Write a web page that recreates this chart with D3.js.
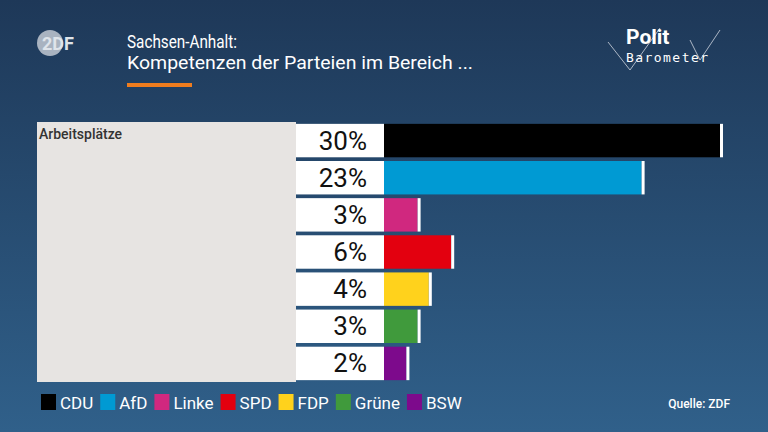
<!DOCTYPE html><html><head><meta charset="utf-8">
<script src="https://cdn.jsdelivr.net/npm/d3@7"></script>
<style>body{margin:0;overflow:hidden}svg{display:block;font-family:Roboto,"Liberation Sans",sans-serif}</style></head><body>
<svg id="c" width="768" height="432"></svg>
<script>
const parties=["CDU","AfD","Linke","SPD","FDP","Grüne","BSW"];
const values=[30,23,3,6,4,3,2];
const colors=["#000000","#009ad3","#d0287f","#e3000f","#ffd21c","#409a3c","#7d0a8c"];
const category="Arbeitsplätze";
(function(){
const svg=d3.select("#c");
const defs=svg.append("defs");
const g=defs.append("linearGradient").attr("id","bg").attr("x1",0).attr("y1",0).attr("x2",0).attr("y2",1);
g.append("stop").attr("offset",0).attr("stop-color","#1e3858");
g.append("stop").attr("offset",1).attr("stop-color","#30608a");
svg.append("rect").attr("width",768).attr("height",432).attr("fill","url(#bg)");
svg.append("circle").attr("cx",50).attr("cy",43).attr("r",13).attr("fill","#a9b3c0");
svg.append("text").attr("x",58).attr("y",50).attr("font-size",18).attr("font-weight","bold").attr("fill","#dfe4ea").attr("text-anchor","middle").text("2DF");
svg.append("text").attr("x",127).attr("y",48).attr("fill","#fff").attr("font-size",19).attr("lengthAdjust","spacingAndGlyphs").attr("textLength",110).text("Sachsen-Anhalt:");
svg.append("text").attr("x",127).attr("y",69).attr("fill","#fff").attr("font-size",19).attr("lengthAdjust","spacingAndGlyphs").attr("textLength",346).text("Kompetenzen der Parteien im Bereich ...");
svg.append("rect").attr("x",127).attr("y",83).attr("width",65).attr("height",4).attr("fill","#f07d1e");
svg.append("path").attr("d","M608,42 L630,70 L660,28 M690,40 L700,60 L720,30").attr("stroke","#cfd6df").attr("fill","none").attr("stroke-width",0.8);
svg.append("text").attr("x",626).attr("y",44).attr("fill","#fff").attr("font-size",21).attr("font-weight","bold").text("Polit");
svg.append("text").attr("x",626).attr("y",62).attr("fill","#fff").attr("font-size",13).attr("font-family","DejaVu Sans Mono").attr("textLength",82).text("Barometer");
const y0=122,y1=382;
const y=d3.scaleBand().domain(parties).range([y0,y1]).paddingInner(0.1).paddingOuter(0.05);
const x=d3.scaleLinear().domain([0,30]).range([384,720]);
svg.append("rect").attr("x",37).attr("y",y0).attr("width",259).attr("height",y1-y0).attr("fill","#e7e4e2");
svg.append("text").attr("x",39).attr("y",139).attr("font-size",14).attr("font-weight",500).attr("fill","#333").text(category);
const rows=svg.selectAll("g.r").data(parties).enter().append("g");
rows.append("rect").attr("x",296).attr("y",d=>y(d)).attr("width",88).attr("height",y.bandwidth()).attr("fill","#fff");
rows.append("rect").attr("x",384).attr("y",d=>y(d)).attr("width",(d,i)=>x(values[i])-384).attr("height",y.bandwidth()).attr("fill",(d,i)=>colors[i]);
rows.append("rect").attr("x",(d,i)=>x(values[i])).attr("y",d=>y(d)).attr("width",3).attr("height",y.bandwidth()).attr("fill","#fff");
rows.append("text").attr("x",367).attr("y",d=>y(d)+y.bandwidth()/2+9).attr("text-anchor","end").attr("font-size",26).attr("fill","#111").text((d,i)=>values[i]+"%");
let lx=41;
parties.forEach((p,i)=>{
 svg.append("rect").attr("x",lx).attr("y",394).attr("width",15).attr("height",16).attr("fill",colors[i]);
 const t=svg.append("text").attr("x",lx+19).attr("y",409).attr("font-size",17).attr("fill","#fff").text(p);
 lx+=19+t.node().getComputedTextLength()+7;
});
svg.append("text").attr("x",730).attr("y",408).attr("text-anchor","end").attr("font-size",12).attr("font-weight",500).attr("fill","#fff").text("Quelle: ZDF");
})();
</script></body></html>
